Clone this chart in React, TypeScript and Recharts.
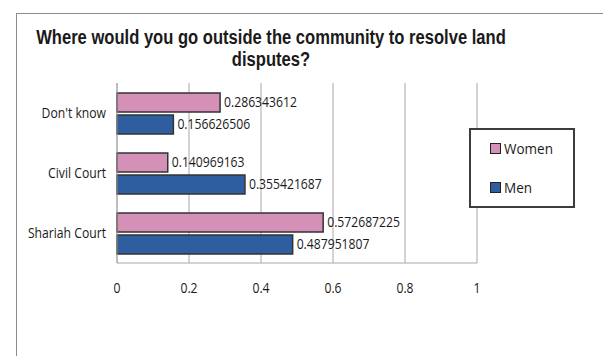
import { Bar, BarChart, CartesianGrid, LabelList, Legend, XAxis, YAxis } from "recharts"

const categories = ["Don't know", "Civil Court", "Shariah Court"]
const women = [0.286343612, 0.140969163, 0.572687225]
const men = [0.156626506, 0.355421687, 0.487951807]
const xTicks = [0, 0.2, 0.4, 0.6, 0.8, 1]
const seriesOrder = ["Women", "Men"]

const data = categories.map((name, i) => ({ name, women: women[i], men: men[i] }))

const font = "'Open Sans', sans-serif"
const squeeze = 0.87

// the reference text looks a bit narrow, so draw it taller and squeeze it sideways
function NarrowText({ x, y, anchor, dy, size, children }: any) {
  return (
    <text
      transform={`translate(${x},${y}) scale(${squeeze},1)`}
      textAnchor={anchor}
      dy={dy}
      fill="#1a1a1a"
      fontSize={size}
      fontFamily={font}
    >
      {children}
    </text>
  )
}

const yTick = (props: any) => (
  <NarrowText x={props.x} y={props.y} anchor="end" dy="0.35em" size={14}>
    {props.payload.value}
  </NarrowText>
)

const xTick = (props: any) => (
  <NarrowText x={props.x} y={props.y} anchor="middle" dy="0.71em" size={14}>
    {props.payload.value}
  </NarrowText>
)

const barLabel = (props: any) => (
  <NarrowText x={props.x + props.width + 4} y={props.y + props.height / 2} anchor="start" dy="0.35em" size={14}>
    {props.value}
  </NarrowText>
)

function LegendBox(props: any) {
  const items = [...(props.payload || [])].sort(
    (a: any, b: any) => seriesOrder.indexOf(a.value) - seriesOrder.indexOf(b.value)
  )
  return (
    <div
      style={{
        width: 106,
        height: 80,
        boxSizing: "border-box",
        border: "2px solid #3c3c3c",
        background: "#fff",
        position: "relative",
        fontFamily: font,
        fontSize: 15,
        color: "#1a1a1a",
      }}
    >
      {items.map((it: any, i: number) => (
        <div
          key={it.value}
          style={{ position: "absolute", left: 19, top: i === 0 ? 8 : 47, display: "flex", alignItems: "center", lineHeight: "20px" }}
        >
          <span
            style={{
              width: 9,
              height: 9,
              border: "1px solid #222",
              background: it.color,
              display: "inline-block",
              marginRight: 3,
            }}
          />
          <span style={{ display: "inline-block", transform: "scaleX(0.9)", transformOrigin: "left center" }}>{it.value}</span>
        </div>
      ))}
    </div>
  )
}

export default function App() {
  return (
    <div style={{ position: "fixed", left: 0, top: 0, width: 603, height: 356, background: "#fff", overflow: "hidden" }}>
      <div
        style={{
          position: "absolute",
          left: 16,
          top: 13,
          width: 620,
          height: 380,
          border: "1px solid #8c8c8c",
        }}
      />
      <div
        style={{
          position: "absolute",
          left: -20,
          top: 25.5,
          width: 582,
          textAlign: "center",
          fontFamily: "'Liberation Sans', Arial, sans-serif",
          fontWeight: "bold",
          fontSize: 19.5,
          lineHeight: "22px",
          color: "#1a1a1a",
          transform: "scaleX(0.85)",
          transformOrigin: "291px 0",
          whiteSpace: "nowrap",
        }}
      >
        Where would you go outside the community to resolve land
        <br />
        disputes?
      </div>
      <div style={{ position: "absolute", left: 0, top: 0 }}>
        <BarChart
          width={603}
          height={356}
          data={data}
          layout="vertical"
          margin={{ top: 83, right: 126, bottom: 53, left: 0 }}
          barSize={19}
          barGap={3}
        >
          <CartesianGrid horizontal={false} stroke="#a6a6a6" />
          <XAxis
            type="number"
            domain={[0, 1]}
            ticks={xTicks}
            height={40}
            axisLine={{ stroke: "#a6a6a6" }}
            tickLine={false}
            tickSize={6}
            tickMargin={14}
            tick={xTick}
          />
          <YAxis
            type="category"
            dataKey="name"
            width={117}
            axisLine={{ stroke: "#a6a6a6" }}
            tickLine={false}
            tickSize={6}
            tickMargin={5}
            tick={yTick}
          />
          <Legend
            layout="horizontal"
            align="center"
            verticalAlign="middle"
            wrapperStyle={{ left: 469, top: 128, width: 106, height: 80 }}
            content={LegendBox}
          />
          <Bar dataKey="women" name="Women" fill="#d490b6" stroke="#333" strokeWidth={1.5} isAnimationActive={false}>
            <LabelList dataKey="women" content={barLabel} />
          </Bar>
          <Bar dataKey="men" name="Men" fill="#2e5e9f" stroke="#333" strokeWidth={1.5} isAnimationActive={false}>
            <LabelList dataKey="men" content={barLabel} />
          </Bar>
        </BarChart>
      </div>
    </div>
  )
}
